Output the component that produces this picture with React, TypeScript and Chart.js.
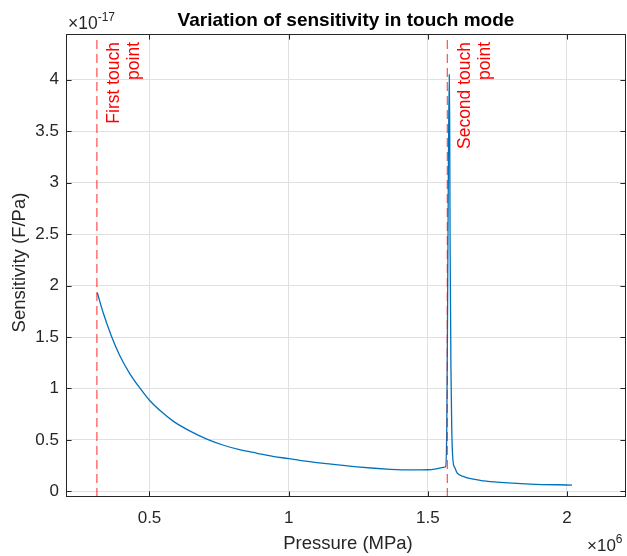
import React, { useEffect, useRef } from "react";
import { Chart, registerables } from "chart.js";

Chart.register(...registerables);

// Pressure in units of 10^6 (axis multiplier), sensitivity in units of 10^-17 F/Pa
const pressureE6 = [
  0.3125, 0.333, 0.363, 0.393, 0.429, 0.4665, 0.5, 0.54, 0.586, 0.646, 0.706,
  0.766, 0.827, 0.887, 0.947, 1.0, 1.04, 1.126, 1.246, 1.366, 1.44, 1.5, 1.534,
  1.556, 1.564, 1.568, 1.571, 1.574, 1.577, 1.5785, 1.58, 1.583, 1.586, 1.59,
  1.597, 1.605, 1.629, 1.688, 1.748, 1.868, 2.018,
];
const sensitivityE17 = [
  1.93, 1.74, 1.51, 1.32, 1.145, 1.0, 0.885, 0.78, 0.68, 0.585, 0.508, 0.448,
  0.402, 0.37, 0.338, 0.318, 0.3, 0.272, 0.237, 0.214, 0.208, 0.21, 0.221,
  0.232, 0.24, 0.6, 1.8, 3.2, 4.05, 3.6, 2.4, 1.2, 0.6, 0.31, 0.23, 0.18,
  0.143, 0.107, 0.09, 0.071, 0.061,
];
const touchPointsE6 = [0.311, 1.57];
const touchLabels = [
  ["First touch", "point"],
  ["Second touch", "point"],
];
const xTicks = [0.5, 1, 1.5, 2];
const yTicks = [0, 0.5, 1, 1.5, 2, 2.5, 3, 3.5, 4];
const xLimits = [0.2, 2.212];
const yLimits = [-0.055, 4.445];

const titleText = "Variation of sensitivity in touch mode";
const xTitle = "Pressure (MPa)";
const yTitle = "Sensitivity (F/Pa)";

const FONT = "'Liberation Sans', Arial, Helvetica, sans-serif";
const AXIS_COLOR = "#262626";

const overlay = {
  id: "matlabOverlay",
  afterDraw(chart: any) {
    const ctx = chart.ctx as CanvasRenderingContext2D;
    const { left, right, top, bottom } = chart.chartArea;
    const xs = chart.scales.x;
    const ys = chart.scales.y;
    ctx.save();

    // box
    ctx.strokeStyle = AXIS_COLOR;
    ctx.lineWidth = 1;
    ctx.strokeRect(Math.round(left) + 0.5, Math.round(top) + 0.5, Math.round(right - left) - 1, Math.round(bottom - top) - 1);

    // inward ticks
    const tl = 5.6;
    ctx.beginPath();
    xTicks.forEach((v) => {
      const px = Math.round(xs.getPixelForValue(v)) + 0.5;
      ctx.moveTo(px, bottom);
      ctx.lineTo(px, bottom - tl);
      ctx.moveTo(px, top);
      ctx.lineTo(px, top + tl);
    });
    yTicks.forEach((v) => {
      const py = Math.round(ys.getPixelForValue(v)) + 0.5;
      ctx.moveTo(left, py);
      ctx.lineTo(left + tl, py);
      ctx.moveTo(right, py);
      ctx.lineTo(right - tl, py);
    });
    ctx.stroke();

    // exponent labels
    ctx.fillStyle = AXIS_COLOR;
    ctx.textAlign = "left";
    ctx.textBaseline = "alphabetic";
    ctx.font = `17.5px ${FONT}`;
    ctx.fillText("\u00d710", left + 2, top - 5);
    let w = ctx.measureText("\u00d710").width;
    ctx.font = `12px ${FONT}`;
    ctx.fillText("-17", left + 2 + w, top - 13);

    ctx.font = `17px ${FONT}`;
    ctx.fillText("\u00d710", 587, 551);
    w = ctx.measureText("\u00d710").width;
    ctx.font = `12px ${FONT}`;
    ctx.fillText("6", 587 + w, 543);

    // axis titles
    ctx.font = `18.5px ${FONT}`;
    ctx.textAlign = "center";
    ctx.fillText(xTitle, (left + right) / 2 + 2, 549);
    ctx.save();
    ctx.translate(25, (top + bottom) / 2 - 3);
    ctx.rotate(-Math.PI / 2);
    ctx.fillText(yTitle, 0, 0);
    ctx.restore();

    // title
    ctx.fillStyle = "#000000";
    ctx.font = `bold 19px ${FONT}`;
    ctx.fillText(titleText, (left + right) / 2, 26);

    // touch point labels
    ctx.fillStyle = "#FF0000";
    ctx.font = `17.5px ${FONT}`;
    ctx.textAlign = "right";
    const offsets = [22.3, 42.5];
    touchPointsE6.forEach((v, i) => {
      const px = xs.getPixelForValue(v);
      touchLabels[i].forEach((line, j) => {
        ctx.save();
        ctx.translate(px + offsets[j], top + 8);
        ctx.rotate(-Math.PI / 2);
        ctx.fillText(line, 0, 0);
        ctx.restore();
      });
    });

    ctx.restore();
  },
};

export default function App() {
  const ref = useRef<HTMLCanvasElement | null>(null);

  useEffect(() => {
    document.body.style.margin = "0";
    const canvas = ref.current;
    if (!canvas) return;
    const chart = new Chart(canvas, {
      type: "line",
      data: {
        datasets: [
          {
            label: "Sensitivity",
            data: pressureE6.map((x, i) => ({ x, y: sensitivityE17[i] })),
            borderColor: "#0072BD",
            borderWidth: 1.3,
            pointRadius: 0,
            cubicInterpolationMode: "monotone",
            order: 2,
          },
          ...touchPointsE6.map((x, i) => ({
            label: touchLabels[i].join(" "),
            data: [
              { x, y: yLimits[0] },
              { x, y: yLimits[1] },
            ],
            borderColor: "rgba(255,0,0,0.7)",
            borderWidth: 1.2,
            borderDash: [9, 5],
            pointRadius: 0,
            order: 1,
          })),
        ],
      },
      options: {
        responsive: false,
        animation: false,
        events: [],
        layout: { padding: { left: 0, right: 1, top: 34, bottom: 0 } },
        plugins: {
          legend: { display: false },
          tooltip: { enabled: false },
          title: { display: false },
        },
        scales: {
          x: {
            type: "linear",
            min: xLimits[0],
            max: xLimits[1],
            afterBuildTicks: (s: any) => {
              s.ticks = xTicks.map((v) => ({ value: v }));
            },
            afterFit: (s: any) => {
              s.height = 59;
            },
            grid: { color: "#e0e0e0", lineWidth: 1, drawTicks: false },
            border: { display: false },
            ticks: {
              font: { family: FONT, size: 17 },
              color: AXIS_COLOR,
              padding: 11,
              maxRotation: 0,
              autoSkip: false,
              callback: (v: any) => String(v),
            },
          },
          y: {
            type: "linear",
            min: yLimits[0],
            max: yLimits[1],
            afterBuildTicks: (s: any) => {
              s.ticks = yTicks.map((v) => ({ value: v }));
            },
            afterFit: (s: any) => {
              s.width = 66;
            },
            grid: { color: "#e0e0e0", lineWidth: 1, drawTicks: false },
            border: { display: false },
            ticks: {
              font: { family: FONT, size: 17 },
              color: AXIS_COLOR,
              padding: 7,
              autoSkip: false,
              callback: (v: any) => String(v),
            },
          },
        },
      },
      plugins: [overlay],
    });
    return () => chart.destroy();
  }, []);

  return (
    <div style={{ width: 627, height: 556, background: "#ffffff" }}>
      <canvas ref={ref} width={627} height={556} style={{ display: "block" }} />
    </div>
  );
}
